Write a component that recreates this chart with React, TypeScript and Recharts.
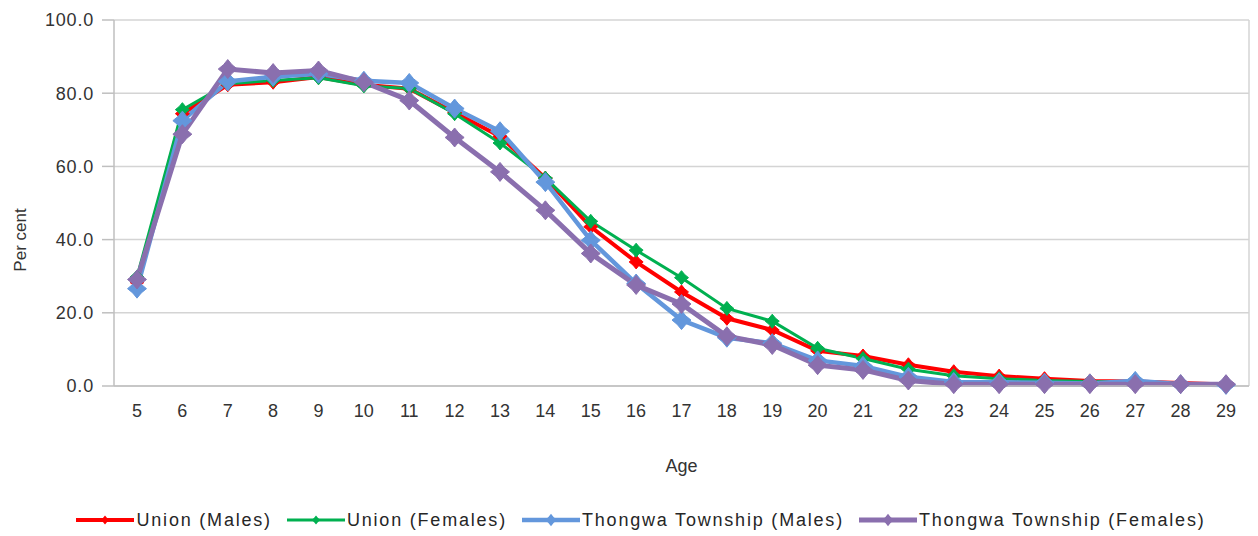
import React from 'react';
import { LineChart, Line, XAxis, YAxis, CartesianGrid, Legend } from 'recharts';

const ages = ['5','6','7','8','9','10','11','12','13','14','15','16','17','18','19','20','21','22','23','24','25','26','27','28','29'];
const unionMales = [28.3, 74.4, 82.3, 83.0, 84.4, 82.3, 81.2, 74.7, 68.2, 56.8, 43.5, 33.9, 25.7, 18.5, 15.3, 9.6, 8.2, 5.8, 3.9, 2.7, 2.0, 1.4, 1.2, 0.8, 0.4];
const unionFemales = [29.8, 75.5, 82.6, 83.5, 84.2, 82.0, 81.3, 74.4, 66.4, 56.8, 45.0, 37.1, 29.6, 21.2, 17.7, 10.3, 7.5, 4.6, 2.8, 2.0, 1.5, 1.2, 1.0, 0.6, 0.4];
const thongwaMales = [26.6, 72.5, 83.2, 84.5, 85.3, 83.4, 82.8, 75.8, 69.6, 55.7, 39.8, 28.0, 18.0, 13.2, 11.7, 7.0, 5.5, 2.5, 1.1, 1.0, 0.9, 0.7, 1.4, 0.5, 0.3];
const thongwaFemales = [29.1, 68.8, 86.6, 85.5, 86.2, 83.0, 78.0, 67.9, 58.5, 48.0, 36.2, 27.6, 22.4, 13.6, 11.2, 5.7, 4.4, 1.5, 0.5, 0.5, 0.5, 0.5, 0.5, 0.5, 0.5];
const yTicks = [0, 20, 40, 60, 80, 100];

const seriesNames = ['Union (Males)', 'Union (Females)', 'Thongwa Township (Males)', 'Thongwa Township (Females)'];

const data = ages.map((age, i) => ({
  age,
  um: unionMales[i],
  uf: unionFemales[i],
  tm: thongwaMales[i],
  tf: thongwaFemales[i],
}));

const FONT = '"Liberation Sans", Arial, sans-serif';
const TEXT = '#333333';

const SERIES = [
  { key: 'um', name: seriesNames[0], color: '#ff0000', width: 4, r: 7 },
  { key: 'uf', name: seriesNames[1], color: '#00b050', width: 3, r: 7 },
  { key: 'tm', name: seriesNames[2], color: '#6397dc', width: 4.5, r: 9.5 },
  { key: 'tf', name: seriesNames[3], color: '#8a6fae', width: 5, r: 9.5 },
];

function star(cx: number, cy: number, r: number, ratio = 0.45) {
  const ri = r * ratio;
  return `M${cx},${cy - r} L${cx + ri},${cy - ri} L${cx + r},${cy} L${cx + ri},${cy + ri} L${cx},${cy + r} L${cx - ri},${cy + ri} L${cx - r},${cy} L${cx - ri},${cy - ri} Z`;
}

const makeDot = (color: string, r: number) => (props: any) => {
  const { cx, cy, index } = props;
  if (cx == null || cy == null) return <g key={`d${index}`} />;
  return <path key={`d${index}`} d={star(cx, cy, r)} fill={color} stroke={color} strokeWidth={1} />;
};

const renderLegend = () => (
  <div style={{ display: 'flex', justifyContent: 'center', alignItems: 'center', height: 30, fontFamily: FONT, fontSize: 18, color: '#262626', paddingLeft: 24 }}>
    {SERIES.map((s, i) => (
      <div key={s.key} style={{ display: 'flex', alignItems: 'center', marginRight: i < SERIES.length - 1 ? 15 : 0 }}>
        <svg width={58} height={20}>
          <line x1={0} y1={10} x2={58} y2={10} stroke={s.color} strokeWidth={s.width} />
          <path d={star(29, 10, s.r * 0.65)} fill={s.color} />
        </svg>
        <span style={{ marginLeft: 2, letterSpacing: 1.8 }}>{s.name}</span>
      </div>
    ))}
  </div>
);

const renderYLabel = (props: any) => {
  const vb = props.viewBox || {};
  const x = (vb.x ?? 14) + 6;
  const y = (vb.y ?? 20) + (vb.height ?? 366) / 2 + 37;
  return (
    <text
      x={x}
      y={y}
      transform={`rotate(-90, ${x}, ${y})`}
      textAnchor="middle"
      dominantBaseline="central"
      fill={TEXT}
      fontSize={17}
      fontFamily={FONT}
    >
      Per cent
    </text>
  );
};

export default function App() {
  return (
    <div style={{ position: 'absolute', left: 0, top: 0, width: 1258, height: 536, background: '#fff' }}>
      <LineChart width={1258} height={536} data={data} margin={{ top: 20, right: 9, bottom: 60, left: 14 }}>
        <CartesianGrid
          stroke="#d4d4d4"
          strokeWidth={1.5}
          vertical={true}
          verticalCoordinatesGenerator={({ offset }: any) => [offset.left + offset.width]}
        />
        <XAxis
          dataKey="age"
          type="category"
          padding={{ left: 23, right: 23 }}
          tickLine={false}
          axisLine={{ stroke: '#bfbfbf', strokeWidth: 1.5 }}
          tick={{ fill: TEXT, fontSize: 18, fontFamily: FONT }}
          tickSize={6}
          tickMargin={12}
          interval={0}
          height={90}
          label={{ value: 'Age', position: 'insideBottom', offset: 4, fill: TEXT, fontSize: 18, fontFamily: FONT }}
        />
        <YAxis
          domain={[0, 100]}
          ticks={yTicks}
          width={100}
          tickFormatter={(v: number) => v.toFixed(1)}
          tick={{ fill: TEXT, fontSize: 18, fontFamily: FONT, letterSpacing: 0.8 }}
          tickSize={12}
          tickMargin={8}
          tickLine={{ stroke: '#bfbfbf', strokeWidth: 1.5 }}
          axisLine={{ stroke: '#bfbfbf', strokeWidth: 1.5 }}
          label={{ content: renderYLabel }}
        />
        <Legend
          verticalAlign="middle"
          align="center"
          layout="horizontal"
          content={renderLegend}
          wrapperStyle={{ top: 505, left: 0, width: 1258, height: 30 }}
        />
        {SERIES.map((s) => (
          <Line
            key={s.key}
            type="linear"
            dataKey={s.key}
            name={s.name}
            stroke={s.color}
            strokeWidth={s.width}
            dot={makeDot(s.color, s.r)}
            activeDot={false}
            isAnimationActive={false}
          />
        ))}
      </LineChart>
    </div>
  );
}
